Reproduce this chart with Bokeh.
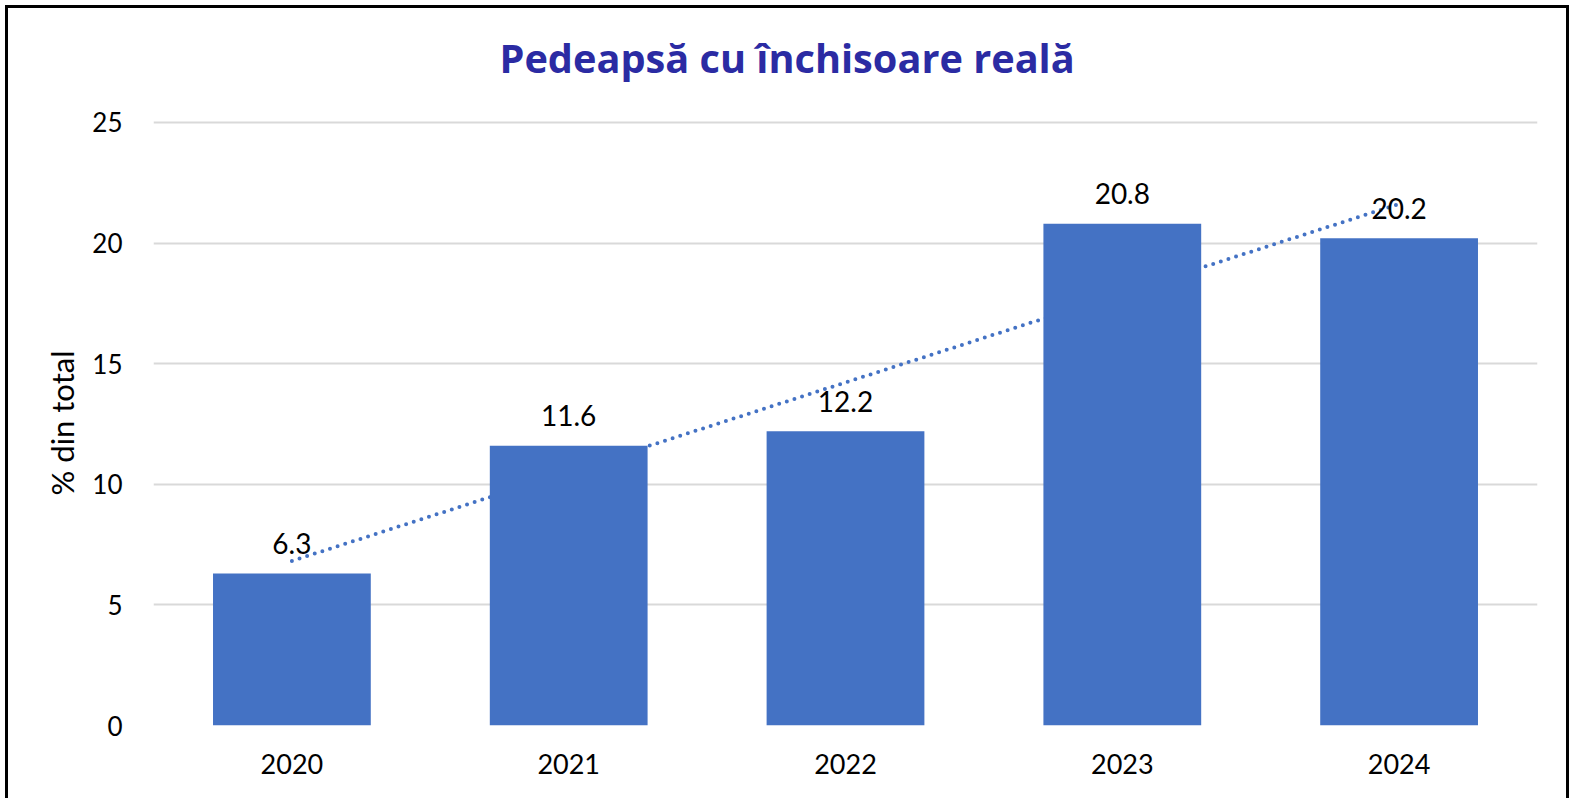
import numpy as np
from bokeh.plotting import figure
from bokeh.models import ColumnDataSource, FactorRange, Range1d, SingleIntervalTicker, Title
from bokeh.core.properties import value
from bokeh.embed import file_html
from bokeh.resources import INLINE

years = ["2020", "2021", "2022", "2023", "2024"]
values = [6.3, 11.6, 12.2, 20.8, 20.2]
labels = ["6.3", "11.6", "12.2", "20.8", "20.2"]
title_text = "Pedeapsă cu închisoare reală"
y_title = "% din total"

BAR = "#4472C4"
FONT = "Lato"

# linear trend line fitted to the series
xs = np.arange(1, len(values) + 1)
slope, intercept = np.polyfit(xs, values, 1)
trend_x = [years[0], years[-1]]
trend_y = [intercept + slope * xs[0], intercept + slope * xs[-1]]

p = figure(width=1564, height=793, x_range=FactorRange(*years), y_range=Range1d(0, 25.08),
           output_backend="svg", toolbar_location=None,
           min_border_left=145, min_border_right=35, min_border_top=112, min_border_bottom=76)
p.styles = {"border-left": "3px solid black", "border-top": "3px solid black",
            "border-right": "3px solid black", "box-sizing": "border-box",
            "margin-left": "5px", "margin-top": "5px"}
p.outline_line_color = None
p.background_fill_color = "white"
p.border_fill_color = "white"

# empty spacer between the frame and the title
spacer = Title(text=" ", text_font_size="10px", standoff=23)
p.add_layout(spacer, "above")

p.title.text = title_text
p.title.align = "left"
p.title.offset = 346
p.title.text_font = "Open Sans"
p.title.text_font_size = "39.7px"
p.title.text_font_style = "bold"
p.title.text_color = "#2B2BA3"
p.title.standoff = 0

p.line(trend_x, trend_y, line_color=BAR, line_width=4, line_dash="0 8", line_cap="round")

src = ColumnDataSource(dict(x=years, top=values, label=labels))
p.vbar(x="x", top="top", width=0.57, source=src, fill_color=BAR, line_color=None)
p.text(x="x", y="top", text="label", source=src, text_align="center", text_baseline="alphabetic",
       y_offset=-30, text_font=value(FONT), text_font_size="28px", text_color="black")

p.yaxis.ticker = SingleIntervalTicker(interval=5)
p.yaxis.axis_line_color = None
p.yaxis.major_tick_line_color = None
p.yaxis.minor_tick_line_color = None
p.yaxis.major_label_standoff = 25
p.yaxis.major_label_text_font = FONT
p.yaxis.major_label_text_font_size = "26px"
p.yaxis.major_label_text_color = "black"
p.yaxis.axis_label = y_title
p.yaxis.axis_label_text_font = FONT
p.yaxis.axis_label_text_font_size = "31px"
p.yaxis.axis_label_text_font_style = "normal"
p.yaxis.axis_label_text_color = "black"
p.yaxis.axis_label_standoff = 8

p.xaxis.axis_line_color = None
p.xaxis.major_tick_line_color = None
p.xaxis.minor_tick_line_color = None
p.xaxis.major_label_standoff = 22
p.xaxis.major_label_text_font = FONT
p.xaxis.major_label_text_font_size = "27px"
p.xaxis.major_label_text_color = "black"

p.xgrid.grid_line_color = None
p.ygrid.grid_line_color = "#D9D9D9"
p.ygrid.grid_line_width = 2

open("out.html", "w").write(file_html(p, INLINE))
